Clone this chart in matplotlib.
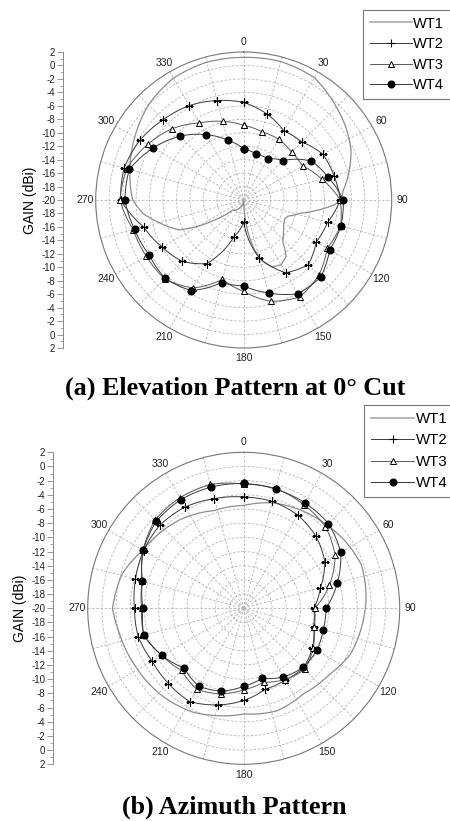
import numpy as np
import matplotlib.pyplot as plt
from matplotlib.lines import Line2D

plt.rcParams['font.family'] = ['Liberation Sans', 'DejaVu Sans']

# ---- data (gain in dBi, angles in degrees) ----
marker_angles = [0, 15, 30, 45, 60, 75, 90, 105, 120, 135, 150, 165,
                 180, 195, 210, 225, 240, 255, 270, 285, 300, 315, 330, 345]

# (a) elevation pattern
elev_wt1_angles = [0, 15, 30, 45, 55, 65, 75, 85, 90, 93, 98, 103, 110, 115, 122, 130,
                   137, 143, 150, 157, 163, 168, 173, 177, 180, 190, 200, 210, 220, 228,
                   236, 245, 255, 262, 270, 285, 300, 315, 330, 345]
elev_wt1 = [1.2, 1.3, 1.0, -0.5, -1.4, -2.4, -3.8, -5.2, -5.5, -6.5, -9.0, -11.3, -13.0, -13.3,
            -13.0, -12.3, -11.5, -9.5, -8.9, -9.2, -10.5, -12.5, -15.5, -18.5, -19.8, -19.5,
            -19.0, -18.5, -18.0, -17.8, -14.5, -9.5, -7.0, -5.0, -3.5, -2.5, -1.3, 0.0, 0.9, 1.2]
elev_wt2 = [-5.5, -6.75, -8.1, -7.8, -6.4, -6.1, -5.65, -7.1, -7.55, -6.4, -7.5, -11.1,
            -16.75, -14.3, -9.1, -7.1, -6.0, -4.6, -1.7, -1.6, -2.2, -3.1, -3.8, -4.7]
elev_wt3 = [-8.9, -9.5, -9.6, -9.9, -9.9, -8.0, -5.65, -5.1, -5.7, -4.2, -3.35, -4.4,
            -6.4, -7.8, -4.9, -3.4, -3.3, -3.0, -1.6, -2.0, -3.5, -5.0, -6.8, -7.9]
elev_wt4 = [-12.4, -12.9, -12.9, -11.7, -8.4, -7.0, -5.2, -5.05, -5.25, -3.8, -3.9, -5.7,
            -7.25, -7.3, -4.45, -3.5, -3.75, -3.2, -2.35, -2.4, -4.5, -6.6, -8.8, -10.8]

# (b) azimuth pattern
azim_wt1_angles = [0, 15, 30, 45, 55, 70, 86, 100, 113, 127, 145, 162, 180, 194, 206,
                   224, 241, 259, 270, 286, 300, 312, 324, 343]
azim_wt1 = [-5.5, -4.6, -4.0, -3.4, -2.9, -2.3, -2.7, -3.2, -3.6, -4.7, -5.3, -4.8, -5.1,
            -4.4, -3.7, -3.1, -2.7, -2.1, -1.5, -2.2, -3.6, -4.1, -4.6, -5.6]
azim_wt2 = [-4.3, -4.4, -4.8, -5.6, -6.8, -8.8, -10.1, -9.8, -8.8, -8.1, -8.3, -8.2,
            -7.0, -5.9, -4.8, -5.0, -5.1, -4.6, -4.6, -4.2, -3.7, -3.35, -3.5, -4.0]
azim_wt3 = [-2.5, -2.5, -3.1, -3.7, -5.1, -7.5, -10.0, -9.7, -8.7, -7.8, -8.4, -9.2,
            -8.5, -7.5, -6.8, -7.6, -6.7, -5.4, -5.6, -5.2, -3.6, -2.35, -2.0, -1.9]
azim_wt4 = [-2.4, -2.6, -2.8, -3.1, -4.2, -6.35, -8.4, -8.4, -8.1, -8.2, -8.8, -9.8,
            -9.0, -7.9, -7.3, -8.1, -6.7, -5.4, -5.8, -5.2, -3.65, -2.6, -2.3, -2.3]

series_names = ['WT1', 'WT2', 'WT3', 'WT4']
gain_ticks = [2, 0, -2, -4, -6, -8, -10, -12, -14, -16, -18, -20]
gain_min, gain_max = -20, 2

styles = {
    'WT1': dict(color='#8c8c8c', lw=0.9, marker=None),
    'WT2': dict(color='#3a3a3a', lw=0.7, marker='+', ms=6, mew=0.8, mec='black'),
    'WT3': dict(color='#5a5a5a', lw=0.7, marker='^', ms=4.5, mew=0.7, mfc='white', mec='black'),
    'WT4': dict(color='#3a3a3a', lw=0.7, marker='o', ms=4.8, mfc='black', mec='black'),
}


def closed(a, v):
    a = list(a) + [a[0] + 360]
    v = list(v) + [v[0]]
    return np.deg2rad(a), np.array(v)


def draw_pattern(fig, rect, scale_x, curves, label_pad):
    ax = fig.add_axes(rect, projection='polar')
    ax.set_theta_zero_location('N')
    ax.set_theta_direction(-1)
    for name, (ang, val) in curves.items():
        th, r = closed(ang, val)
        ln, = ax.plot(th, r, **styles[name])
        # draw segments as arcs in polar space
        ln.get_path()._interpolation_steps = 24
    ax.set_ylim(gain_min, gain_max)
    ax.set_rgrids(np.arange(-18, 1, 2), labels=[])
    angles = np.arange(0, 360, 15)
    ax.set_thetagrids(angles, labels=[str(a) if a % 30 == 0 else '' for a in angles])
    ax.grid(True, ls=(0, (3, 2)), color='#b5b5b5', lw=0.6)
    ax.tick_params(axis='x', labelsize=7.5, pad=label_pad, colors='#222222')
    ax.spines['polar'].set_color('#777777')
    ax.spines['polar'].set_linewidth(0.8)

    # linear gain scale on the left
    sax = fig.add_axes([scale_x, rect[1], 0.0001, rect[3]])
    sax.set_ylim(-(gain_max - gain_min), gain_max - gain_min)
    pos = [g - gain_min for g in gain_ticks] + [-(g - gain_min) for g in gain_ticks[::-1][1:]]
    labs = [f'{g:g}' for g in gain_ticks] + [f'{g:g}' for g in gain_ticks[::-1][1:]]
    sax.set_yticks(pos)
    sax.set_yticklabels(labs)
    sax.set_yticks(np.arange(-(gain_max - gain_min), gain_max - gain_min + 1, 1), minor=True)
    sax.set_xticks([])
    for s in ['right', 'top', 'bottom']:
        sax.spines[s].set_visible(False)
    sax.spines['left'].set_color('#888888')
    sax.spines['left'].set_linewidth(0.7)
    sax.tick_params(axis='y', which='major', length=4, width=0.6, color='#888888',
                    labelsize=7, pad=1.5, labelcolor='#222222')
    sax.tick_params(axis='y', which='minor', length=2, width=0.5, color='#888888')
    sax.set_ylabel('GAIN (dBi)', fontsize=10, labelpad=3)
    return ax


fig = plt.figure(figsize=(4.5, 8.21), dpi=100)
W, H = 450, 821


def rect_from(cx, cy, rad):
    return [(cx - rad) / W, (H - cy - rad) / H, 2 * rad / W, 2 * rad / H]


draw_pattern(fig, rect_from(243.7, 200, 148), 63 / W, {
    'WT1': (elev_wt1_angles, elev_wt1),
    'WT2': (marker_angles, elev_wt2),
    'WT3': (marker_angles, elev_wt3),
    'WT4': (marker_angles, elev_wt4),
}, label_pad=-3)
draw_pattern(fig, rect_from(243.7, 608.3, 156), 53 / W, {
    'WT1': (azim_wt1_angles, azim_wt1),
    'WT2': (marker_angles, azim_wt2),
    'WT3': (marker_angles, azim_wt3),
    'WT4': (marker_angles, azim_wt4),
}, label_pad=-3)

handles = [Line2D([], [], **styles[n]) for n in series_names]
handles[0].set_color('#b0b0b0')
handles[0].set_linewidth(1.3)
for y_top, x_left, fs in [(10, 363, 10.5), (405, 364, 10.8)]:
    leg = fig.legend(handles, series_names, loc='upper left',
                     bbox_to_anchor=(x_left / W, 1 - y_top / H),
                     fontsize=fs, frameon=True, fancybox=False, handlelength=2.9,
                     handletextpad=0.1, labelspacing=0.5 if fs > 10.6 else 0.45,
                     borderpad=0.45, borderaxespad=0)
    leg.get_frame().set_edgecolor('#555555')
    leg.get_frame().set_linewidth(0.8)

fig.text(235 / W, 1 - 388 / H, '(a) Elevation Pattern at 0\u00b0 Cut', ha='center', va='center',
         fontsize=18.8, fontweight='bold', family=['Liberation Serif', 'DejaVu Serif'])
fig.text(234 / W, 1 - 807 / H, '(b) Azimuth Pattern', ha='center', va='center',
         fontsize=18.8, fontweight='bold', family=['Liberation Serif', 'DejaVu Serif'])

fig.savefig('out.png', dpi=100)
